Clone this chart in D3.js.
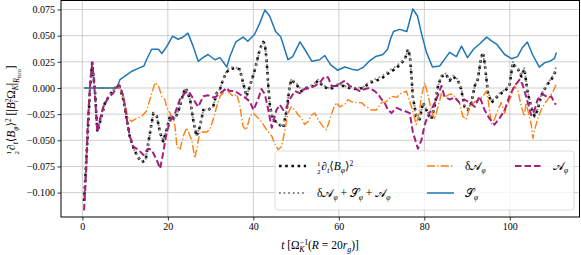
<!DOCTYPE html>
<html><head><meta charset="utf-8">
<script src="https://cdn.jsdelivr.net/npm/d3@7"></script>
<style>
body{margin:0;background:#fff}
svg{display:block}
text{font-family:"Liberation Serif","DejaVu Serif",serif;fill:#000}
</style>
</head><body>
<svg id="c" width="581" height="255"></svg>
<script>
// ---------------- data ----------------
const xTicks = [0, 20, 40, 60, 80, 100];
const yTicks = [-0.100, -0.075, -0.050, -0.025, 0.000, 0.025, 0.050, 0.075];

// 1/2 d_t <B_phi>^2  and  dA + S + A  (same time samples)
const dbT = [0.4,1.3,1.8,2.3,3.0,3.5,4.5,5.3,6.5,7.6,8.6,9.6,10.4,11.1,12.1,13.0,13.9,14.8,15.4,16.6,17.4,18.2,18.9,19.7,20.5,21.7,22.8,23.6,24.2,25.2,25.9,26.7,27.5,28.3,29.4,30.6,31.4,32.2,32.9,33.7,34.5,35.7,36.8,37.6,38.4,39.2,40.4,41.5,42.3,42.7,43.1,43.5,43.9,44.6,45.8,47.0,47.8,48.5,48.9,50.1,51.3,52.4,54.0,55.1,56.3,57.5,58.6,59.8,61.0,62.5,64.1,65.7,67.2,68.8,70.3,71.9,73.5,74.6,75.4,76.2,76.6,77.0,77.3,78.1,78.9,79.7,80.8,81.6,82.4,83.2,84.0,85.1,85.9,86.7,87.9,88.6,89.4,90.2,91.0,91.8,92.5,93.3,93.7,94.1,94.9,95.7,96.4,97.6,98.8,99.9,100.7,101.1,101.9,102.7,103.4,104.2,105.0,105.8,106.5,107.3,108.5,109.7,110.4,110.8];
const dbV = [-0.108,-0.040,-0.001,0.024,-0.006,-0.042,-0.027,-0.014,-0.006,0.000,0.002,-0.011,-0.030,-0.047,-0.059,-0.066,-0.071,-0.069,-0.053,-0.024,-0.027,-0.043,-0.051,-0.040,-0.027,-0.030,-0.018,-0.005,0.000,-0.011,-0.030,-0.046,-0.037,-0.021,-0.021,-0.018,-0.005,-0.001,0.008,0.015,0.018,0.019,0.018,0.005,-0.008,0.002,0.018,0.037,0.044,0.042,0.027,0.002,-0.018,-0.030,-0.034,-0.038,-0.021,0.002,0.008,0.003,-0.003,0.000,0.002,0.007,0.002,-0.001,0.000,0.003,0.002,0.000,-0.001,0.000,0.005,0.007,0.010,0.015,0.019,0.024,0.027,0.037,0.031,0.011,-0.008,-0.027,-0.030,-0.014,-0.024,-0.030,-0.018,0.002,0.011,0.013,0.007,0.011,0.007,-0.001,-0.018,-0.021,-0.014,0.002,0.008,0.029,0.034,0.024,-0.005,-0.014,-0.011,-0.006,-0.003,0.002,0.024,0.021,0.018,0.011,0.018,-0.005,-0.018,-0.027,-0.021,-0.008,0.002,0.008,0.013,0.018];
const sumV = [-0.104,-0.040,-0.002,0.023,-0.006,-0.041,-0.027,-0.014,-0.006,0.000,0.002,-0.011,-0.030,-0.047,-0.059,-0.066,-0.070,-0.068,-0.053,-0.024,-0.027,-0.043,-0.050,-0.040,-0.027,-0.030,-0.018,-0.005,0.000,-0.011,-0.030,-0.045,-0.037,-0.021,-0.021,-0.018,-0.005,-0.001,0.008,0.016,0.020,0.020,0.018,0.005,-0.008,0.002,0.018,0.036,0.043,0.042,0.027,0.002,-0.018,-0.030,-0.034,-0.037,-0.021,0.003,0.009,0.004,-0.002,0.001,0.003,0.008,0.003,0.000,0.001,0.004,0.002,0.001,0.000,0.001,0.006,0.009,0.012,0.017,0.021,0.025,0.028,0.036,0.031,0.011,-0.008,-0.026,-0.029,-0.014,-0.023,-0.029,-0.018,0.002,0.012,0.014,0.008,0.012,0.008,0.000,-0.017,-0.020,-0.014,0.002,0.009,0.029,0.033,0.024,-0.004,-0.013,-0.010,-0.005,-0.002,0.003,0.025,0.022,0.019,0.012,0.019,-0.004,-0.017,-0.026,-0.020,-0.007,0.003,0.009,0.014,0.020];

// delta A_phi
const daT = [0.4,8.3,8.8,9.6,10.7,11.5,12.7,13.9,15.0,15.8,17.0,17.8,18.6,19.3,19.7,20.5,21.3,21.7,22.1,22.8,23.6,24.4,24.8,25.6,26.3,26.7,27.5,28.3,29.1,29.8,30.6,31.4,32.2,32.9,33.7,34.5,35.3,36.1,36.8,37.6,38.4,39.2,40.0,40.7,41.9,43.1,44.3,45.0,45.8,46.6,47.4,48.1,48.9,49.7,50.5,51.3,52.0,52.8,53.6,54.4,55.1,56.3,57.1,57.9,58.6,59.4,60.2,61.4,62.1,62.9,64.1,65.3,66.4,67.6,68.8,70.0,71.1,72.3,73.5,74.6,75.8,76.6,77.3,78.1,78.9,79.3,80.1,80.8,81.6,82.4,83.2,84.0,84.7,85.9,86.7,87.5,88.2,89.0,89.8,90.6,91.8,92.9,93.7,94.5,94.9,95.7,96.4,97.2,98.0,98.8,99.2,100.3,101.1,101.9,102.7,103.4,103.8,105.0,105.4,105.8,106.5,107.3,108.5,109.7,110.4,110.8];
const daV = [0,0,-0.001,-0.008,-0.029,-0.032,-0.029,-0.027,-0.022,-0.011,0.005,0.002,-0.008,-0.011,-0.018,-0.024,-0.030,-0.037,-0.056,-0.059,-0.046,-0.038,-0.042,-0.050,-0.067,-0.059,-0.042,-0.042,-0.042,-0.040,-0.030,-0.018,-0.008,-0.005,-0.001,-0.005,-0.008,-0.006,-0.016,-0.037,-0.040,-0.027,-0.024,-0.027,-0.032,-0.040,-0.046,-0.053,-0.059,-0.056,-0.040,-0.024,-0.018,-0.021,-0.026,-0.029,-0.035,-0.032,-0.026,-0.024,-0.030,-0.037,-0.040,-0.030,-0.021,-0.014,-0.018,-0.016,-0.011,-0.013,-0.014,-0.014,-0.018,-0.021,-0.021,-0.014,-0.013,-0.008,-0.009,-0.005,-0.003,-0.013,-0.022,-0.035,-0.021,-0.008,0.005,-0.006,-0.021,-0.030,-0.018,-0.005,-0.009,-0.006,-0.006,-0.011,-0.014,-0.027,-0.030,-0.018,-0.013,-0.011,-0.008,-0.003,-0.011,-0.034,-0.030,-0.021,-0.014,-0.024,-0.018,-0.008,0.002,-0.003,-0.018,-0.027,-0.014,-0.035,-0.048,-0.040,-0.030,-0.021,-0.013,-0.006,-0.001,0.003];

// S_phi
const sT = [0.4,8.1,8.8,10.2,11.6,13.2,14.4,15.0,16.2,17.8,18.6,19.8,21.1,22.4,23.5,24.7,25.9,27.1,28.2,29.4,31.0,32.2,33.8,34.5,35.9,37.6,38.7,40.3,41.5,42.7,43.8,45.2,46.4,48.1,49.2,50.9,52.0,53.7,55.5,56.7,58.1,59.7,61.4,63.0,64.4,65.8,67.2,68.6,70.3,71.4,72.1,72.8,74.2,75.9,77.3,78.4,79.4,80.5,81.9,83.6,85.9,87.5,88.7,90.1,91.5,92.9,94.6,95.7,96.9,98.8,100.4,101.8,103.0,104.1,105.3,106.9,108.1,109.3,110.4,110.9];
const sV = [0,0,0.008,0.012,0.016,0.019,0.021,0.027,0.037,0.037,0.033,0.040,0.0495,0.0466,0.0485,0.0524,0.040,0.0255,0.029,0.032,0.027,0.029,0.020,0.030,0.044,0.0486,0.0447,0.0514,0.062,0.0745,0.0688,0.054,0.049,0.027,0.030,0.044,0.037,0.0255,0.027,0.031,0.022,0.017,0.020,0.018,0.017,0.020,0.026,0.030,0.032,0.037,0.047,0.054,0.056,0.054,0.0755,0.0688,0.051,0.034,0.020,0.021,0.034,0.030,0.040,0.029,0.037,0.042,0.0486,0.045,0.042,0.032,0.028,0.030,0.039,0.044,0.032,0.020,0.024,0.0255,0.028,0.034];

// A_phi
const aT = [0.4,0.9,1.3,1.8,2.3,2.7,3.5,4.1,4.9,6.1,7.2,8.4,8.8,9.6,10.4,11.1,11.9,13.1,14.3,15.4,16.2,17.4,18.2,18.9,19.7,20.5,21.7,22.8,24.0,24.8,25.6,26.3,27.1,28.3,29.4,30.6,31.4,32.2,32.9,33.7,34.5,35.7,36.8,38.0,39.2,40.0,41.1,41.9,42.7,43.5,44.3,45.4,46.2,47.0,47.8,48.5,49.7,50.9,52.0,53.2,54.4,55.5,56.7,57.5,58.3,59.4,60.6,61.4,62.5,63.7,64.9,66.1,67.2,68.4,69.2,70.0,70.7,71.5,72.3,73.5,74.6,75.4,76.6,77.3,78.5,79.3,80.1,80.8,81.6,82.8,84.0,84.7,85.9,87.1,88.2,89.4,90.6,91.8,92.9,94.1,95.2,96.4,97.6,98.8,99.9,101.1,102.3,103.0,103.8,105.0,105.8,106.5,107.7,108.9,109.7,110.4,110.8];
const aV = [-0.117,-0.078,-0.030,0.003,0.024,0.008,-0.042,-0.030,-0.018,-0.009,-0.005,0.003,0.002,-0.008,-0.030,-0.046,-0.056,-0.059,-0.064,-0.058,-0.059,-0.069,-0.077,-0.062,-0.043,-0.032,-0.024,-0.011,-0.005,-0.003,-0.008,-0.013,-0.018,-0.008,-0.007,-0.009,-0.008,-0.005,-0.003,0.000,-0.003,-0.003,-0.006,-0.009,-0.013,-0.021,-0.011,-0.001,-0.006,-0.021,-0.038,-0.021,-0.016,-0.021,-0.018,-0.011,-0.003,-0.005,-0.001,0.000,0.002,0.005,0.011,0.010,0.002,0.002,0.005,0.007,0.002,0.000,-0.003,-0.001,0.000,-0.003,-0.006,-0.011,-0.014,-0.021,-0.024,-0.019,-0.021,-0.022,-0.024,-0.042,-0.058,-0.050,-0.035,-0.027,-0.021,-0.011,0.002,-0.008,-0.011,-0.009,-0.014,-0.011,-0.014,-0.018,-0.008,-0.021,-0.029,-0.035,-0.029,-0.021,-0.008,0.002,0.008,0.003,-0.008,-0.026,-0.021,-0.011,-0.006,-0.009,-0.008,-0.014,-0.016];

// ---------------- chart ----------------
const svg = d3.select('#c');
const L = 61, R = 579.5, T = 0.5, B = 217;
const x = d3.scaleLinear().domain([-5.0, 116.3]).range([L, R]);
const y = d3.scaleLinear().domain([-0.1233, 0.0836]).range([B, T]);

// grid
const grid = svg.append('g').attr('stroke', '#c4c4c4').attr('stroke-width', 0.8);
xTicks.forEach(t => grid.append('line').attr('x1', x(t)).attr('x2', x(t)).attr('y1', T).attr('y2', B));
yTicks.forEach(v => grid.append('line').attr('x1', L).attr('x2', R).attr('y1', y(v)).attr('y2', y(v)));

const clip = svg.append('clipPath').attr('id', 'pc').append('rect')
  .attr('x', L).attr('y', T).attr('width', R - L).attr('height', B - T);
const plot = svg.append('g').attr('clip-path', 'url(#pc)');

const line = d3.line().x(d => x(d[0])).y(d => y(d[1]));
const series = [
  {t: dbT, v: dbV, color: '#111111', w: 2.6, dash: '2.6,3.6'},
  {t: dbT, v: sumV, color: '#8a8a8a', w: 1.8, dash: '1.8,2.8'},
  {t: daT, v: daV, color: '#ff7f0e', w: 1.4, dash: '8,2.2,1.4,2.2'},
  {t: sT,  v: sV,  color: '#1f77b4', w: 1.5, dash: null},
  {t: aT,  v: aV,  color: '#a3207c', w: 2.0, dash: '6.5,3'}
];
series.forEach(s => {
  const pts = d3.zip(s.t, s.v);
  plot.append('path').attr('d', line(pts)).attr('fill', 'none')
    .attr('stroke', s.color).attr('stroke-width', s.w)
    .attr('stroke-dasharray', s.dash).attr('stroke-linejoin', 'round');
});

// axes
const fmt = d3.format('.3f');
const ax = svg.append('g').attr('transform', `translate(0,${B})`)
  .call(d3.axisBottom(x).tickValues(xTicks).tickSize(3.5).tickPadding(2.5));
const ay = svg.append('g').attr('transform', `translate(${L},0)`)
  .call(d3.axisLeft(y).tickValues(yTicks).tickFormat(fmt).tickSize(3.5).tickPadding(2.5));
[ax, ay].forEach(a => {
  a.select('.domain').remove();
  a.selectAll('line').attr('stroke', '#000').attr('stroke-width', 0.8);
  a.selectAll('text').attr('font-size', 10).attr('font-family', '"Liberation Serif",serif');
});
svg.append('rect').attr('x', L).attr('y', T).attr('width', R - L).attr('height', B - T)
  .attr('fill', 'none').attr('stroke', '#000').attr('stroke-width', 1);

// rich text helper
function rich(sel, parts) {
  let cur = 0;
  parts.forEach(([txt, o = {}]) => {
    const off = o.dy || 0;
    const ts = sel.append('tspan').text(txt).attr('dy', off - cur);
    cur = off;
    if (o.size) ts.attr('font-size', o.size);
    if (o.it) ts.attr('font-style', 'italic');
    if (o.dx) ts.attr('dx', o.dx);
  });
}
const half = [
  ['1', {size: 7, dy: -4}], ['2', {size: 7, dy: 3.5, dx: -3.5}],
  ['\u2202', {dx: 1}], ['t', {size: 7.5, dy: 2.5, it: true}],
  ['\u27E8'], ['B', {it: true}], ['\u03C6', {size: 7.5, dy: 2.5, it: true}],
  ['\u27E9'], ['2', {size: 7.5, dy: -4.5}]
];

// x label
rich(svg.append('text').attr('x', 320).attr('y', 249).attr('text-anchor', 'middle').attr('font-size', 11.5), [
  ['t', {it: true}], [' [\u03A9'], ['\u22121', {size: 8, dy: -4.5}], ['K', {size: 8, dy: 3, dx: -9, it: true}],
  ['(', {dx: 3.5}], ['R', {it: true}], [' = 20'], ['r', {it: true}], ['g', {size: 8, dy: 2.5, it: true}], [')]']
]);

// y label
rich(svg.append('text').attr('transform', 'translate(15,110) rotate(-90)').attr('text-anchor', 'middle').attr('font-size', 11.5),
  half.concat([
    [' [|'], ['B', {it: true}], ['2', {size: 7.5, dy: -4.5}], ['i', {size: 7.5, dy: 3, dx: -3.8, it: true}],
    ['\u03A9', {dx: 1.5}], ['K', {size: 7.5, dy: 2.5, it: true}], ['|'],
    ['R', {size: 7.5, dy: 3.5, it: true}], ['isco', {size: 5.5, dy: 5.5, it: true}], [']']
  ]));

// legend
const lg = svg.append('g');
lg.append('rect').attr('x', 275).attr('y', 151).attr('width', 299).attr('height', 59).attr('rx', 3)
  .attr('fill', 'rgba(255,255,255,0.8)').attr('stroke', '#d4d4d4').attr('stroke-width', 0.8);
const A = '\uD835\uDC9C', S = '\uD835\uDCAE';
const entries = [
  {s: 0, x: 279, y: 166, label: half},
  {s: 1, x: 279, y: 193, label: [['\u03B4'], [A], ['\u03C6', {size: 7.5, dy: 2.5, it: true}], [' + '], [S], ['\u03C6', {size: 7.5, dy: 2.5, it: true}], [' + '], [A], ['\u03C6', {size: 7.5, dy: 2.5, it: true}]]},
  {s: 2, x: 427, y: 166, label: [['\u03B4'], [A], ['\u03C6', {size: 7.5, dy: 2.5, it: true}]]},
  {s: 3, x: 427, y: 193, label: [[S], ['\u03C6', {size: 7.5, dy: 2.5, it: true}]]},
  {s: 4, x: 515, y: 166, label: [[A], ['\u03C6', {size: 7.5, dy: 2.5, it: true}]]}
];
entries.forEach(e => {
  const s = series[e.s];
  lg.append('line').attr('x1', e.x).attr('x2', e.x + 27).attr('y1', e.y).attr('y2', e.y)
    .attr('stroke', s.color).attr('stroke-width', s.w).attr('stroke-dasharray', s.dash);
  rich(lg.append('text').attr('x', e.x + 38).attr('y', e.y + 4).attr('font-size', 11.5), e.label);
});
</script>
</body></html>
